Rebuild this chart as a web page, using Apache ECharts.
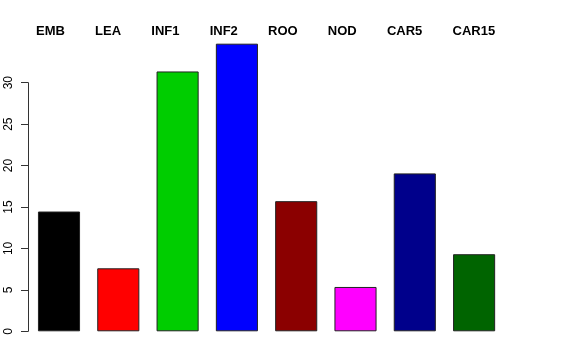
<!DOCTYPE html>
<html>
<head>
<meta charset="utf-8">
<script src="https://cdn.jsdelivr.net/npm/echarts@6/dist/echarts.min.js"></script>
<style>html,body{margin:0;padding:0;background:#fff}#c{width:576px;height:360px}</style>
</head>
<body>
<div id="c"></div>
<script>
const categories = ['EMB','LEA','INF1','INF2','ROO','NOD','CAR5','CAR15'];
const values = [14.45, 7.6, 31.35, 34.7, 15.7, 5.35, 19.05, 9.3];
const barColors = ['#000000','#FF0000','#00CD00','#0000FF','#8B0000','#FF00FF','#00008B','#006400'];
const yTicks = [0,5,10,15,20,25,30];

const chart = echarts.init(document.getElementById('c'), null, {renderer:'canvas'});
const font = 'Liberation Sans, Arial, Helvetica, sans-serif';
const series = categories.map((name, i) => ({
  name: name,
  type: 'bar', xAxisIndex: 0, yAxisIndex: 0, stack: 'all',
  data: values.map((v, j) => j === i ? v : '-'),
  barCategoryGap: '29%',
  itemStyle: {color: barColors[i], borderColor: '#222', borderWidth: 1}
}));
chart.setOption({
  animation: false,
  backgroundColor: '#ffffff',
  color: barColors,
  legend: {
    data: categories, left: 26, top: 19, orient: 'horizontal',
    itemWidth: 0, itemHeight: 14, itemGap: 25.2, selectedMode: false,
    icon: 'rect',
    itemStyle: {color: 'rgba(0,0,0,0)', borderWidth: 0, opacity: 0},
    textStyle: {fontFamily: font, fontWeight: 'bold', fontSize: 13, color: '#000'}
  },
  grid: [
    {left: 29.35, width: 474.4, top: 41.2, height: 290.1},
    {left: 28, width: 474.4, top: 82.7, height: 248.6}
  ],
  xAxis: [
    {type:'category', gridIndex:0, data: categories, show:false},
    {type:'category', gridIndex:1, data: categories, show:false}
  ],
  yAxis: [
    {type:'value', gridIndex:0, min:0, max:35, interval:5, show:false, splitLine:{show:false}},
    {type:'value', gridIndex:1, min:yTicks[0], max:yTicks[yTicks.length-1], interval:5,
     axisLine:{show:true, lineStyle:{color:'#333', width:1}},
     axisTick:{show:true, length:7, lineStyle:{color:'#333'}},
     axisLabel:{show:true, rotate:90, fontFamily:font, fontSize:12, color:'#000', margin:13},
     splitLine:{show:false}}
  ],
  series: series
});
</script>
</body>
</html>
